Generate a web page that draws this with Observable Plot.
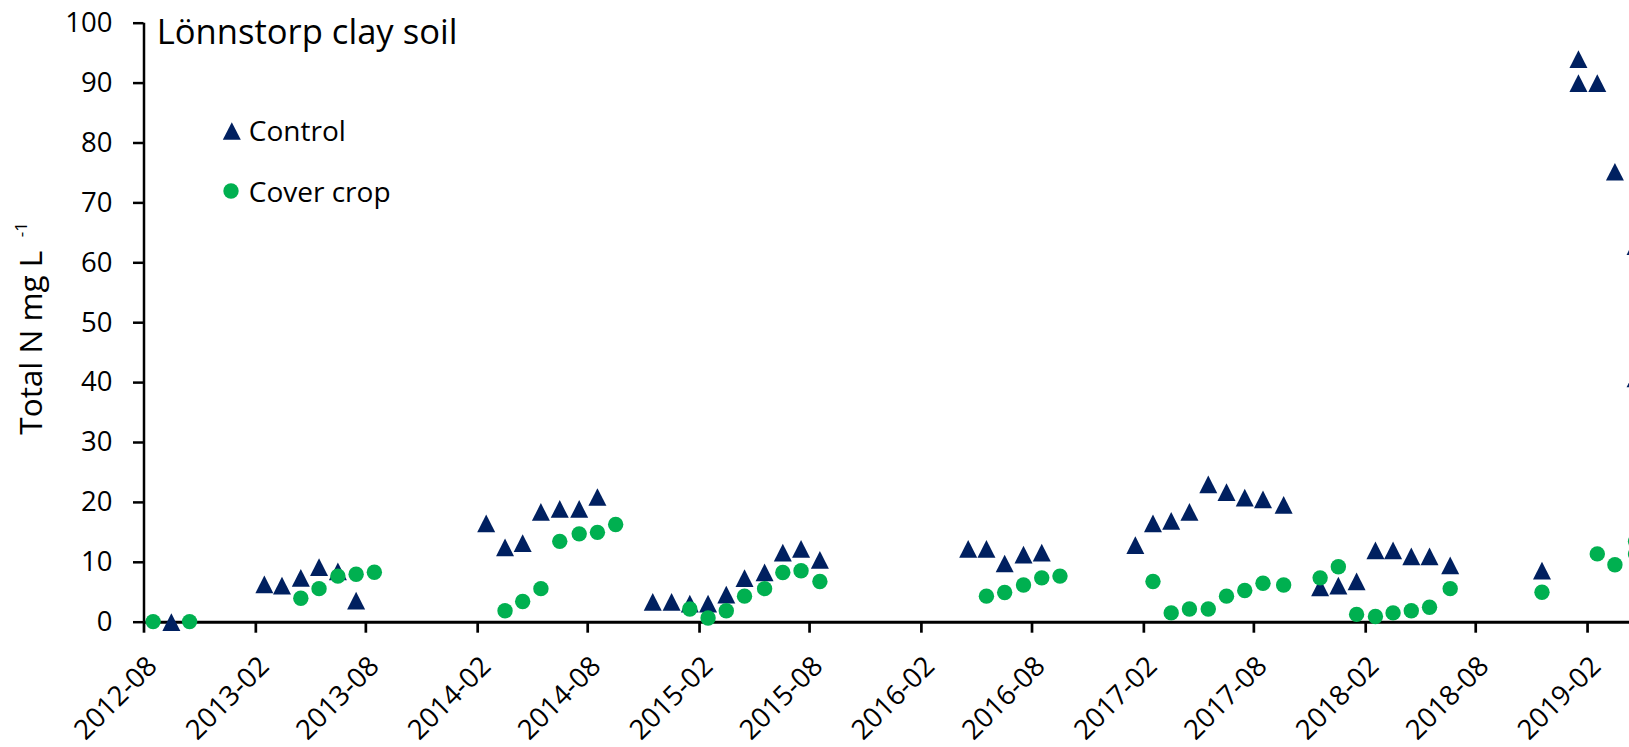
<!DOCTYPE html>
<html><head><meta charset="utf-8">
<script src="https://cdn.jsdelivr.net/npm/d3@7"></script>
<script src="https://cdn.jsdelivr.net/npm/@observablehq/plot@0.6"></script>
<style>
html,body{margin:0;padding:0;background:#fff;overflow:hidden;}
#chart svg{display:block;}
</style></head><body><div id="chart"></div>
<script>
// ---- data ----
const controlDates = [
  "2012-09-15","2013-02-15","2013-03-16","2013-04-16","2013-05-16","2013-06-16","2013-07-16",
  "2014-02-15","2014-03-18","2014-04-16","2014-05-16","2014-06-16","2014-07-18","2014-08-17",
  "2014-11-16","2014-12-17","2015-01-16","2015-02-15","2015-03-17","2015-04-16","2015-05-19",
  "2015-06-18","2015-07-18","2015-08-18",
  "2016-04-18","2016-05-18","2016-06-17","2016-07-18","2016-08-17",
  "2017-01-18","2017-02-16","2017-03-18","2017-04-17","2017-05-18","2017-06-17","2017-07-17",
  "2017-08-16","2017-09-19",
  "2017-11-18","2017-12-18","2018-01-17","2018-02-17","2018-03-18","2018-04-17","2018-05-17",
  "2018-06-20","2018-11-18",
  "2019-01-17","2019-01-17","2019-02-17","2019-03-18","2019-04-21","2019-04-21"
];
const controlValues = [
  0.0, 6.3, 6.1, 7.4, 9.2, 8.5, 3.6,
  16.5, 12.5, 13.2, 18.4, 18.9, 18.9, 20.9,
  3.4, 3.4, 3.1, 3.1, 4.6, 7.35, 8.3,
  11.6, 12.25, 10.4,
  12.25, 12.25, 9.8, 11.3, 11.6,
  12.85, 16.5, 16.9, 18.4, 23.0, 21.7, 20.8,
  20.5, 19.6,
  5.8, 6.1, 6.8, 12.0, 12.0, 11.0, 11.0,
  9.5, 8.6,
  94.0, 90.0, 90.0, 75.2, 62.8, 40.7
];
const coverDates = [
  "2012-08-16","2012-10-15","2013-04-16","2013-05-16","2013-06-16","2013-07-16","2013-08-15",
  "2014-03-18","2014-04-16","2014-05-16","2014-06-16","2014-07-18","2014-08-17","2014-09-16",
  "2015-01-16","2015-02-15","2015-03-17","2015-04-16","2015-05-19","2015-06-18","2015-07-18","2015-08-18",
  "2016-05-18","2016-06-17","2016-07-18","2016-08-17","2016-09-16",
  "2017-02-16","2017-03-18","2017-04-17","2017-05-18","2017-06-17","2017-07-17","2017-08-16","2017-09-19",
  "2017-11-18","2017-12-18","2018-01-17","2018-02-17","2018-03-18","2018-04-17","2018-05-17","2018-06-20",
  "2018-11-18","2019-02-17","2019-03-18","2019-04-21","2019-04-21"
];
const coverValues = [
  0.1, 0.1, 4.0, 5.6, 7.7, 8.0, 8.35,
  1.9, 3.45, 5.6, 13.5, 14.75, 15.0, 16.3,
  2.2, 0.7, 1.9, 4.35, 5.6, 8.3, 8.6, 6.8,
  4.35, 4.96, 6.2, 7.4, 7.7,
  6.8, 1.55, 2.2, 2.2, 4.35, 5.3, 6.5, 6.2,
  7.4, 9.25, 1.3, 0.95, 1.55, 1.9, 2.5, 5.6,
  5.0, 11.4, 9.6, 13.5, 11.4
];
const yTicks = [0, 10, 20, 30, 40, 50, 60, 70, 80, 90, 100];
const xTickDates = ["2012-08-01","2013-02-01","2013-08-01","2014-02-01","2014-08-01","2015-02-01",
  "2015-08-01","2016-02-01","2016-08-01","2017-02-01","2017-08-01","2018-02-01","2018-08-01","2019-02-01"];
const xDomain = ["2012-08-01", "2019-04-11"];
const seriesNames = ["Control", "Cover crop"];
const seriesColors = ["#002060", "#00B050"];
const titleText = "Lönnstorp clay soil";
const yTitleText = "Total N mg L";
const yTitleSup = "-1";

// ---- build ----
const parse = d3.utcParse("%Y-%m-%d");
const control = controlDates.map((d, i) => ({date: parse(d), value: controlValues[i]}));
const cover = coverDates.map((d, i) => ({date: parse(d), value: coverValues[i]}));
const xTicks = xTickDates.map(parse);

// triangle whose bounding box is centred on the data point (like Excel markers)
const triangle = {
  draw(ctx, size) {
    const r = Math.sqrt(size / Math.PI);
    const h = r * 0.985;
    ctx.moveTo(0, -h);
    ctx.lineTo(r, h);
    ctx.lineTo(-r, h);
    ctx.closePath();
  }
};

const FONT = "'Open Sans', Lato, sans-serif";

const chart = Plot.plot({
  width: 1629,
  height: 747,
  marginLeft: 143.5,
  marginRight: 0,
  marginTop: 22.7,
  marginBottom: 125.3,
  style: {fontFamily: FONT, background: "#fff", color: "#000", overflow: "hidden"},
  x: {type: "utc", domain: xDomain.map(parse)},
  y: {domain: [0, 100]},
  marks: [
    // y axis
    Plot.axisY({ticks: yTicks, tickSize: 10.5, tickPadding: 21, fontSize: 27.5, strokeWidth: 2.5, label: null, fill: "#000"}),
    Plot.ruleX([parse(xDomain[0])], {stroke: "#000", strokeWidth: 2.5}),
    // x axis
    Plot.axisX({ticks: xTicks, tickSize: 11, tickFormat: () => "", strokeWidth: 2.7, label: null}),
    Plot.ruleY([0], {stroke: "#000", strokeWidth: 3}),
    Plot.text(xTicks, {x: d => d, frameAnchor: "bottom", text: d3.utcFormat("%Y-%m"), rotate: -45,
      textAnchor: "end", lineAnchor: "middle", dx: 8.5, dy: 39.5, fontSize: 27.6, fill: "#000"}),
    // y title
    Plot.text([yTitleText], {frameAnchor: "left", text: d => d, rotate: -90, textAnchor: "end",
      lineAnchor: "bottom", dx: -101.8, dy: -72, fontSize: 31.5, fill: "#000"}),
    Plot.text([yTitleSup], {frameAnchor: "left", text: d => d, rotate: -90, textAnchor: "start",
      lineAnchor: "bottom", dx: -116.8, dy: -85.5, fontSize: 17, fill: "#000"}),
    // data
    Plot.dot(control, {x: "date", y: "value", symbol: triangle, r: 9, fill: seriesColors[0], stroke: "none"}),
    Plot.dot(cover, {x: "date", y: "value", symbol: "circle", r: 7.7, fill: seriesColors[1], stroke: "none"}),
    // title
    Plot.text([titleText], {frameAnchor: "top-left", text: d => d, textAnchor: "start", lineAnchor: "bottom",
      dx: 12.7, dy: 20.6, fontSize: 34.6, fill: "#000"}),
    // legend
    Plot.dot([seriesNames[0]], {frameAnchor: "top-left", dx: 87.8, dy: 107.8, symbol: triangle, r: 9, fill: seriesColors[0], stroke: "none"}),
    Plot.dot([seriesNames[1]], {frameAnchor: "top-left", dx: 87, dy: 167.8, symbol: "circle", r: 7.7, fill: seriesColors[1], stroke: "none"}),
    Plot.text([seriesNames[0]], {frameAnchor: "top-left", text: d => d, textAnchor: "start", lineAnchor: "bottom",
      dx: 104.8, dy: 117.3, fontSize: 28, fill: "#000"}),
    Plot.text([seriesNames[1]], {frameAnchor: "top-left", text: d => d, textAnchor: "start", lineAnchor: "bottom",
      dx: 104.8, dy: 179, fontSize: 28, fill: "#000"})
  ]
});
document.getElementById("chart").appendChild(chart);
</script></body></html>
